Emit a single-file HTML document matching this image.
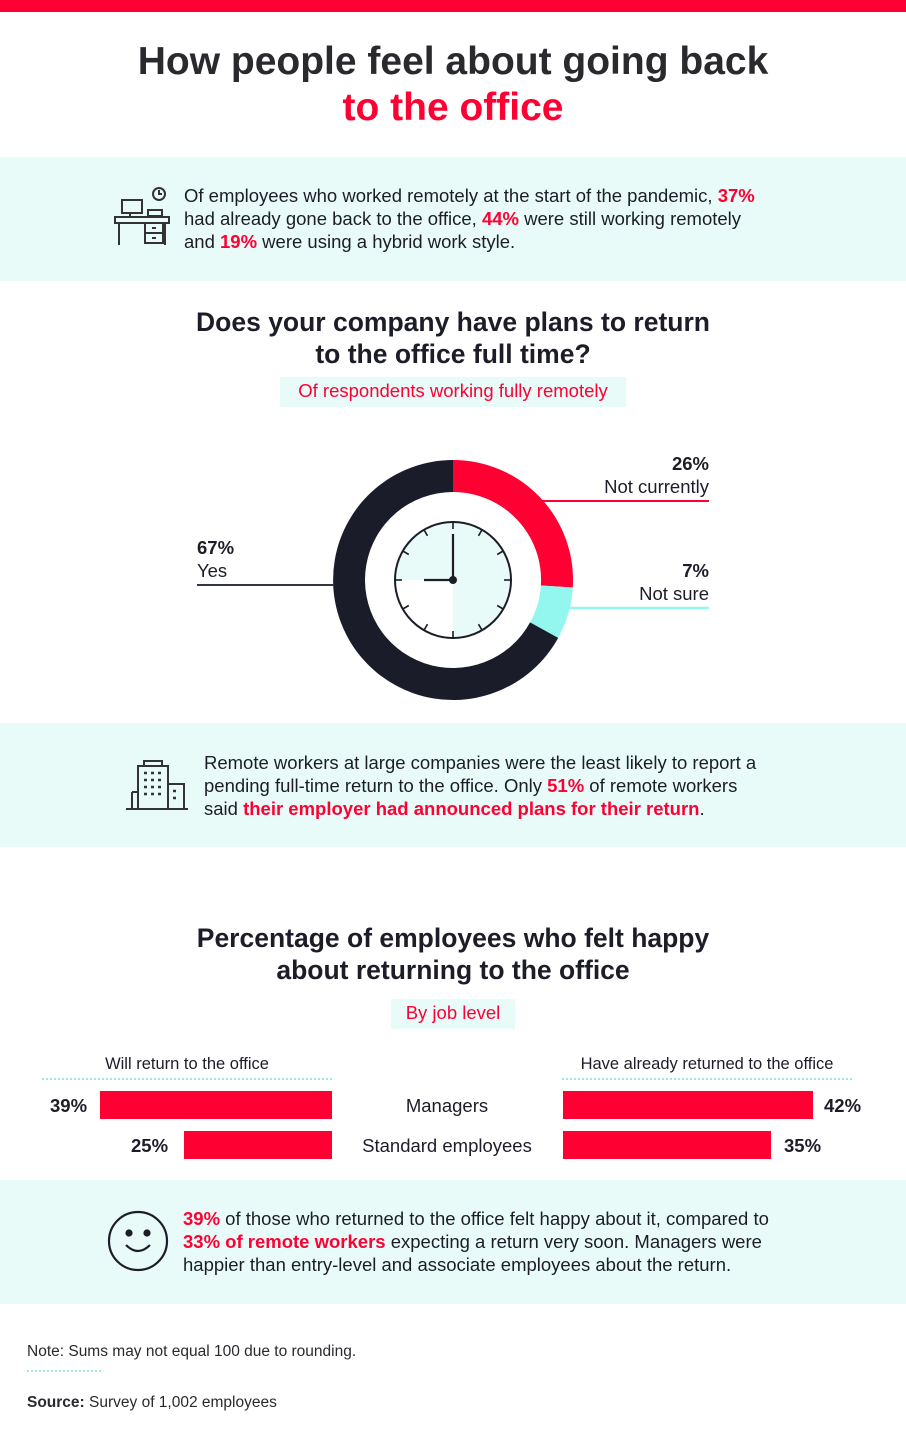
<!DOCTYPE html>
<html><head><meta charset="utf-8"><style>
*{margin:0;padding:0;box-sizing:border-box}
body{width:906px;height:1437px;background:#fff;font-family:"Liberation Sans",Arial,sans-serif;color:#1c1d28;position:relative;overflow:hidden}
.a{position:absolute}
.r{color:#ff0033;font-weight:bold}
.band{position:absolute;left:0;width:906px;background:#e8fbf9}
.t{font-size:18.5px;line-height:23px;color:#1c1d28;white-space:nowrap}
h1{position:absolute;left:0;width:906px;text-align:center;font-size:39px;line-height:46px;font-weight:bold;color:#2a2a2e}
h2{position:absolute;left:0;width:906px;text-align:center;font-size:26.5px;line-height:32px;font-weight:bold;color:#1c1d28}
.sub{position:absolute;background:#e8fbf9;color:#ff0033;font-size:18.5px;text-align:center;line-height:28px}
</style></head><body>
<div class="a" style="left:0;top:0;width:906px;height:12px;background:#ff0033"></div>
<h1 style="top:39px">How people feel about going back<br><span style="color:#ff0033">to the office</span></h1>

<div class="band" style="top:157px;height:124px"></div>
<svg class="a" style="left:112px;top:186px" width="60" height="62" viewBox="0 0 60 62" fill="none" stroke="#333" stroke-width="2">
<circle cx="47" cy="8" r="6"/><path d="M47 4v4h3"/>
<rect x="10" y="14" width="20" height="13"/><path d="M18 27v4M14 31h12"/>
<rect x="36" y="24" width="14" height="6"/>
<rect x="3" y="31" width="54" height="6"/><path d="M7 37v22M53 37v22"/>
<rect x="33" y="37" width="18" height="20"/><path d="M33 47h18M40 42h4M40 52h4"/>
</svg>
<div class="a t" style="left:184px;top:184px">Of employees who worked remotely at the start of the pandemic, <span class="r">37%</span><br>had already gone back to the office, <span class="r">44%</span> were still working remotely<br>and <span class="r">19%</span> were using a hybrid work style.</div>

<h2 style="top:306px">Does your company have plans to return<br>to the office full time?</h2>
<div class="sub" style="left:280px;top:377px;width:346px;height:30px">Of respondents working fully remotely</div>

<svg class="a" style="left:0;top:440px" width="906" height="280">
<g transform="translate(453,140)">
<path d="M0,-120 A120,120 0 0 1 119.8,7.5 L87.9,5.5 A88,88 0 0 0 0,-88Z" fill="#ff0033"/>
<path d="M119.8,7.5 A120,120 0 0 1 105.2,57.9 L77.1,42.4 A88,88 0 0 0 87.9,5.5Z" fill="#94f7ef"/>
<path d="M105.2,57.9 A120,120 0 1 1 0,-120 L0,-88 A88,88 0 1 0 77.1,42.4Z" fill="#1a1c2a"/>
<path d="M-58,0 A58,58 0 0 1 0,-58 A58,58 0 0 1 0,58 L0,0Z" fill="#e8fbf9"/>
<circle r="58" fill="none" stroke="#1c1d28" stroke-width="2"/>
<g stroke="#1c1d28" stroke-width="1.6">
<line x1="0" y1="-58" x2="0" y2="-51"/><line x1="29" y1="-50.2" x2="25.5" y2="-44.2"/><line x1="50.2" y1="-29" x2="44.2" y2="-25.5"/><line x1="58" y1="0" x2="51" y2="0"/><line x1="50.2" y1="29" x2="44.2" y2="25.5"/><line x1="29" y1="50.2" x2="25.5" y2="44.2"/><line x1="0" y1="58" x2="0" y2="51"/><line x1="-29" y1="50.2" x2="-25.5" y2="44.2"/><line x1="-50.2" y1="29" x2="-44.2" y2="25.5"/><line x1="-58" y1="0" x2="-51" y2="0"/><line x1="-50.2" y1="-29" x2="-44.2" y2="-25.5"/><line x1="-29" y1="-50.2" x2="-25.5" y2="-44.2"/>
<line x1="0" y1="0" x2="0" y2="-46" stroke-width="2.2"/><line x1="0" y1="0" x2="-29" y2="0" stroke-width="2.2"/>
</g>
<circle r="4" fill="#1c1d28"/>
</g>
<line x1="197" y1="145" x2="334" y2="145" stroke="#333645" stroke-width="2"/>
<line x1="540" y1="61" x2="709" y2="61" stroke="#ff0033" stroke-width="2"/>
<line x1="566" y1="168" x2="709" y2="168" stroke="#94f7ef" stroke-width="2.5"/>
</svg>
<div class="a t" style="left:197px;top:536px"><b>67%</b><br>Yes</div>
<div class="a t" style="left:540px;top:452px;width:169px;text-align:right"><b>26%</b><br>Not currently</div>
<div class="a t" style="left:540px;top:559px;width:169px;text-align:right"><b>7%</b><br>Not sure</div>

<div class="band" style="top:723px;height:124px"></div>
<svg class="a" style="left:124px;top:758px" width="66" height="54" fill="none" stroke="#333" stroke-width="2">
<rect x="14" y="8" width="30" height="43"/><path d="M20 8V3h18v5"/><rect x="44" y="26" width="16" height="25"/><path d="M2 51h62M8 34v17M8 34h6"/>
<g stroke-width="2.5"><path d="M20 15h3M27 15h3M34 15h3M20 22h3M27 22h3M34 22h3M20 29h3M27 29h3M34 29h3M20 36h3M27 36h3M34 36h3M49 33h3M49 40h3"/></g>
</svg>
<div class="a t" style="left:204px;top:751px">Remote workers at large companies were the least likely to report a<br>pending full-time return to the office. Only <span class="r">51%</span> of remote workers<br>said <span class="r">their employer had announced plans for their return</span>.</div>

<h2 style="top:922px">Percentage of employees who felt happy<br>about returning to the office</h2>
<div class="sub" style="left:391px;top:999px;width:124px;height:30px">By job level</div>

<div class="a" style="left:42px;top:1055px;width:290px;text-align:center;font-size:16.5px">Will return to the office</div>
<div class="a" style="left:562px;top:1055px;width:290px;text-align:center;font-size:16.5px">Have already returned to the office</div>
<div class="a" style="left:42px;top:1078px;width:290px;border-top:2px dotted #9ee9e6"></div>
<div class="a" style="left:562px;top:1078px;width:290px;border-top:2px dotted #9ee9e6"></div>
<div class="a" style="left:100px;top:1091px;width:232px;height:28px;background:#ff0033"></div>
<div class="a" style="left:184px;top:1131px;width:148px;height:28px;background:#ff0033"></div>
<div class="a" style="left:563px;top:1091px;width:250px;height:28px;background:#ff0033"></div>
<div class="a" style="left:563px;top:1131px;width:208px;height:28px;background:#ff0033"></div>
<div class="a t" style="left:50px;top:1094px;font-weight:bold">39%</div>
<div class="a t" style="left:131px;top:1134px;font-weight:bold">25%</div>
<div class="a t" style="left:824px;top:1094px;font-weight:bold">42%</div>
<div class="a t" style="left:784px;top:1134px;font-weight:bold">35%</div>
<div class="a t" style="left:332px;top:1094px;width:230px;text-align:center">Managers</div>
<div class="a t" style="left:332px;top:1134px;width:230px;text-align:center">Standard employees</div>

<div class="band" style="top:1180px;height:124px"></div>
<svg class="a" style="left:106px;top:1209px" width="64" height="64" fill="none" stroke="#1c1d28" stroke-width="2.2">
<circle cx="32" cy="32" r="29"/><circle cx="23" cy="24" r="2.5" fill="#1c1d28"/><circle cx="41" cy="24" r="2.5" fill="#1c1d28"/><path d="M20 36q12 12 24 0"/>
</svg>
<div class="a t" style="left:183px;top:1207px"><span class="r">39%</span> of those who returned to the office felt happy about it, compared to<br><span class="r">33% of remote workers</span> expecting a return very soon. Managers were<br>happier than entry-level and associate employees about the return.</div>

<div class="a" style="left:27px;top:1343px;font-size:15.5px;color:#2a2a2e">Note: Sums may not equal 100 due to rounding.</div>
<div class="a" style="left:27px;top:1370px;width:74px;border-top:2px dotted #9ee9e6"></div>
<div class="a" style="left:27px;top:1394px;font-size:15.5px;color:#2a2a2e"><b>Source:</b> Survey of 1,002 employees</div>
</body></html>
